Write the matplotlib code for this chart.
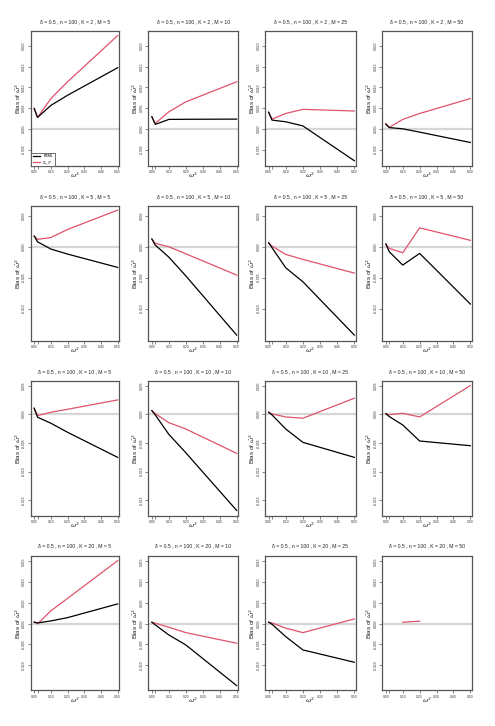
import matplotlib
matplotlib.use("Agg")
import matplotlib.pyplot as plt
import numpy as np

plt.rcParams['font.family'] = ['Liberation Sans', 'DejaVu Sans']
plt.rcParams['mathtext.fontset'] = 'dejavusans'

# ---------------- data ----------------
omega2 = [0.0, 0.02, 0.1, 0.2, 0.5]
K_values = [2, 5, 10, 20]
M_values = [5, 10, 25, 50]
series_names = ["REML", "CL_P"]

# bias of REML estimator, one list per M (5, 10, 25, 50)
reml_K2 = [[0.0049, 0.00275, 0.00565, 0.0081, 0.01474],
           [0.0029, 0.00106, 0.00227, 0.0023, 0.00234],
           [0.0040, 0.0021, 0.0017, 0.0007, -0.0077],
           [0.0011, 0.0003, 0.0000, -0.0008, -0.0033]]
reml_K5 = [[0.00173, 0.0008, -0.00037, -0.00118, -0.00334],
           [0.00125, 0.00028, -0.00167, -0.0047, -0.01429],
           [0.00065, -0.00016, -0.0034, -0.00566, -0.01429],
           [0.00044, -0.0008, -0.00296, -0.00107, -0.00927]]
reml_K10 = [[0.00105, -0.00052, -0.00157, -0.00315, -0.00752],
            [0.00063, -0.00012, -0.0035, -0.00671, -0.01678],
            [0.00035, -0.00012, -0.00257, -0.0049, -0.00752],
            [0.0001, -0.0004, -0.00187, -0.00467, -0.00549]]
reml_K20 = [[0.00034, 0.00017, 0.00065, 0.00145, 0.00476],
            [0.00034, -0.0003, -0.00273, -0.00514, -0.01497],
            [0.00034, -0.00015, -0.00314, -0.00635, -0.00933],
            [np.nan, np.nan, np.nan, np.nan, np.nan]]

# bias of CL_P estimator
clp_K2 = [[0.0049, 0.00275, 0.0073, 0.01135, 0.0225],
          [0.0029, 0.0013, 0.0041, 0.0065, 0.01135],
          [0.0040, 0.00234, 0.0037, 0.0047, 0.0043],
          [0.0013, 0.00034, 0.00227, 0.0037, 0.0073]]
clp_K5 = [[0.00173, 0.0012, 0.0015, 0.0028, 0.00594],
          [0.00125, 0.00055, 0.0000, -0.00113, -0.00458],
          [0.00065, 0.0001, -0.00123, -0.00204, -0.00426],
          [0.00044, -0.00026, -0.00097, 0.00307, 0.00104]]
clp_K10 = [[0.00105, -0.00024, 0.00035, 0.00087, 0.0025],
           [0.00063, 0.0001, -0.00147, -0.00257, -0.00682],
           [0.00035, 0.00005, -0.00047, -0.0007, 0.0028],
           [0.0001, -0.00007, 0.00017, -0.00047, 0.0050]]
clp_K20 = [[0.00048, -0.00007, 0.0031, 0.0061, 0.0152],
           [0.00034, 0.0001, -0.00087, -0.00217, -0.00473],
           [0.00034, 0.00017, -0.0011, -0.00217, 0.00113],
           [np.nan, np.nan, 0.00034, 0.00058, np.nan]]

reml_all = [reml_K2, reml_K5, reml_K10, reml_K20]
clp_all = [clp_K2, clp_K5, clp_K10, clp_K20]

row_yticks = [[-0.005, 0.0, 0.005, 0.010, 0.015, 0.020],
              [-0.010, -0.005, 0.0, 0.005],
              [-0.015, -0.010, -0.005, 0.0, 0.005],
              [-0.010, -0.005, 0.0, 0.005, 0.010, 0.015]]
row_ylims = [(-0.0089, 0.0236), (-0.0152, 0.0066),
             (-0.0177, 0.0058), (-0.0161, 0.0164)]
xticks = [0.0, 0.02, 0.1, 0.2, 0.3, 0.4, 0.5]

# ---------------- layout ----------------
W, H = 495, 726
fig = plt.figure(figsize=(W / 100, H / 100), dpi=100)
col_edges = [(30.7, 119.0), (148.3, 238.0), (265.0, 355.7), (382.3, 471.7)]
row_edges = [(31.0, 165.7), (206.0, 340.7), (381.0, 515.7), (555.7, 690.3)]

RED = '#DF536B'
FRAME = '#555555'


def ytxt(v):
    s = f"{v:.3f}"
    return "0.000" if s == "-0.000" else s


for r, K in enumerate(K_values):
    for c, M in enumerate(M_values):
        x0, x1 = col_edges[c]
        y0, y1 = row_edges[r]
        ax = fig.add_axes([x0 / W, 1 - y1 / H, (x1 - x0) / W, (y1 - y0) / H])
        ax.axhline(0, color='#D6D6D6', lw=1.6, zorder=1)
        ax.plot(omega2, reml_all[r][c], color='black', lw=0.9, zorder=3, label=series_names[0])
        ax.plot(omega2, clp_all[r][c], color=RED, lw=0.9, zorder=2, label=series_names[1])
        ax.set_xlim(-0.021, 0.508)
        ax.set_ylim(*row_ylims[r])
        ax.set_xticks(xticks)
        ax.set_xticklabels(["" if t == 0.02 else f"{t:.2f}" for t in xticks], fontsize=2.4, color='#333333')
        ax.set_yticks(row_yticks[r])
        ax.set_yticklabels([ytxt(v) for v in row_yticks[r]], fontsize=2.4, rotation=90,
                           va='center', color='#333333')
        ax.tick_params(axis='both', length=2, width=0.5, color=FRAME, pad=1.2)
        for sp in ax.spines.values():
            sp.set_color(FRAME)
            sp.set_linewidth(0.9)
        xc = (x0 + x1) / 2
        fig.text(xc / W, 1 - (y0 - 9.5) / H,
                 f"δ = 0.5 , n = 100 , K = {K} , M = {M}",
                 ha='center', va='center', fontsize=3.7, color='#222222')
        fig.text((x0 - 12.5) / W, 1 - ((y0 + y1) / 2) / H, r"Bias of $\hat{\omega}^2$",
                 rotation=90, ha='center', va='center', fontsize=4.6, color='#222222')
        fig.text(xc / W, 1 - (y1 + 10.0) / H, r"$\omega^2$", ha='center', va='center',
                 fontsize=4.6, color='#222222')
        if r == 0 and c == 0:
            leg = ax.legend(loc='lower left', fontsize=2.6, handlelength=2.2,
                            borderpad=0.5, labelspacing=0.4, fancybox=False,
                            framealpha=1, borderaxespad=0)
            leg.get_frame().set_edgecolor(FRAME)
            leg.get_frame().set_linewidth(0.6)

fig.savefig("out.png", dpi=100)
